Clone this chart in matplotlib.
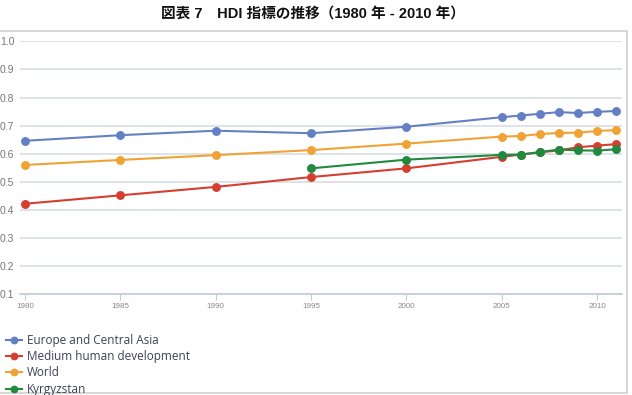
import matplotlib
matplotlib.use("Agg")
import matplotlib.pyplot as plt
from matplotlib.patches import Rectangle

years_full = [1980, 1985, 1990, 1995, 2000, 2005, 2006, 2007, 2008, 2009, 2010, 2011]
years_kgz = [1995, 2000, 2005, 2006, 2007, 2008, 2009, 2010, 2011]

europe = [0.646, 0.666, 0.682, 0.673, 0.696, 0.730, 0.736, 0.742, 0.748, 0.745, 0.749, 0.752]
medium = [0.422, 0.452, 0.482, 0.517, 0.548, 0.589, 0.597, 0.605, 0.612, 0.623, 0.629, 0.634]
world = [0.560, 0.578, 0.595, 0.613, 0.636, 0.661, 0.663, 0.670, 0.674, 0.675, 0.681, 0.684]
kyrgyz = [0.548, 0.579, 0.596, 0.597, 0.606, 0.615, 0.612, 0.611, 0.616]

series_names = ["Europe and Central Asia", "Medium human development", "World", "Kyrgyzstan"]
colors = ["#6480c4", "#d43f2f", "#f0a234", "#1f8a40"]

x_ticks = [1980, 1985, 1990, 1995, 2000, 2005, 2010]
y_ticks = [0.1, 0.2, 0.3, 0.4, 0.5, 0.6, 0.7, 0.8, 0.9, 1.0]

title = "図表 7　HDI 指標の推移（1980 年 - 2010 年）"

plt.rcParams['font.family'] = ['Liberation Sans', 'Noto Sans CJK JP', 'DejaVu Sans']

W, H = 632, 395
fig = plt.figure(figsize=(W / 100, H / 100), dpi=100)

# chart frame
fig.patches.append(Rectangle((-5 / W, 1 - 393 / H), 632 / W, (393 - 31) / H,
                             transform=fig.transFigure, fill=False,
                             edgecolor="#d0d0d0", linewidth=1.2))

fig.text(313 / W, 1 - 14 / H, title, ha="center", va="center", fontsize=10.5,
         fontweight="bold", family=['Liberation Sans', 'Noto Sans CJK JP'], color="#111111")

ax_left, ax_right = 20 / W, 622 / W
ax_bottom, ax_top = 1 - 294.3 / H, 1 - 41.3 / H
ax = fig.add_axes([ax_left, ax_bottom, ax_right - ax_left, ax_top - ax_bottom])

ax.set_ylim(0.1, 1.0)
ax.set_xlim(1979.74, 2011.31)
ax.set_yticks(y_ticks)
ax.set_yticklabels([f"{v:.1f}" for v in y_ticks])
ax.set_xticks(x_ticks)
ax.set_xticklabels([str(v) for v in x_ticks])
ax.grid(axis="y", color="#d5dbe2", linewidth=1.1)
ax.set_axisbelow(True)
for s in ["top", "right", "left"]:
    ax.spines[s].set_visible(False)
ax.spines["bottom"].set_color("#c0cad6")
ax.spines["bottom"].set_linewidth(1.2)
ax.tick_params(axis="y", length=0, labelsize=7.5, labelcolor="#777777", pad=4)
ax.tick_params(axis="x", length=4, color="#c0cad6", labelsize=5.8, labelcolor="#888888", pad=2)

data = [(years_full, europe), (years_full, medium), (years_full, world), (years_kgz, kyrgyz)]
handles = []
for (xs, ys), name, c in zip(data, series_names, colors):
    h, = ax.plot(xs, ys, color=c, linewidth=1.5, marker="o", markersize=5.4,
                 label=name, clip_on=False)
    handles.append(h)

leg = fig.legend(handles=handles, loc="upper left", bbox_to_anchor=(1 / W, 1 - 329 / H),
                 frameon=False, handlelength=1.4, handletextpad=0.4,
                 labelspacing=0.28, borderaxespad=0, markerscale=0.85,
                 prop={'family': 'Open Sans', 'size': 8.5})
for t in leg.get_texts():
    t.set_color("#3a4255")

fig.savefig("out.png", dpi=100)
